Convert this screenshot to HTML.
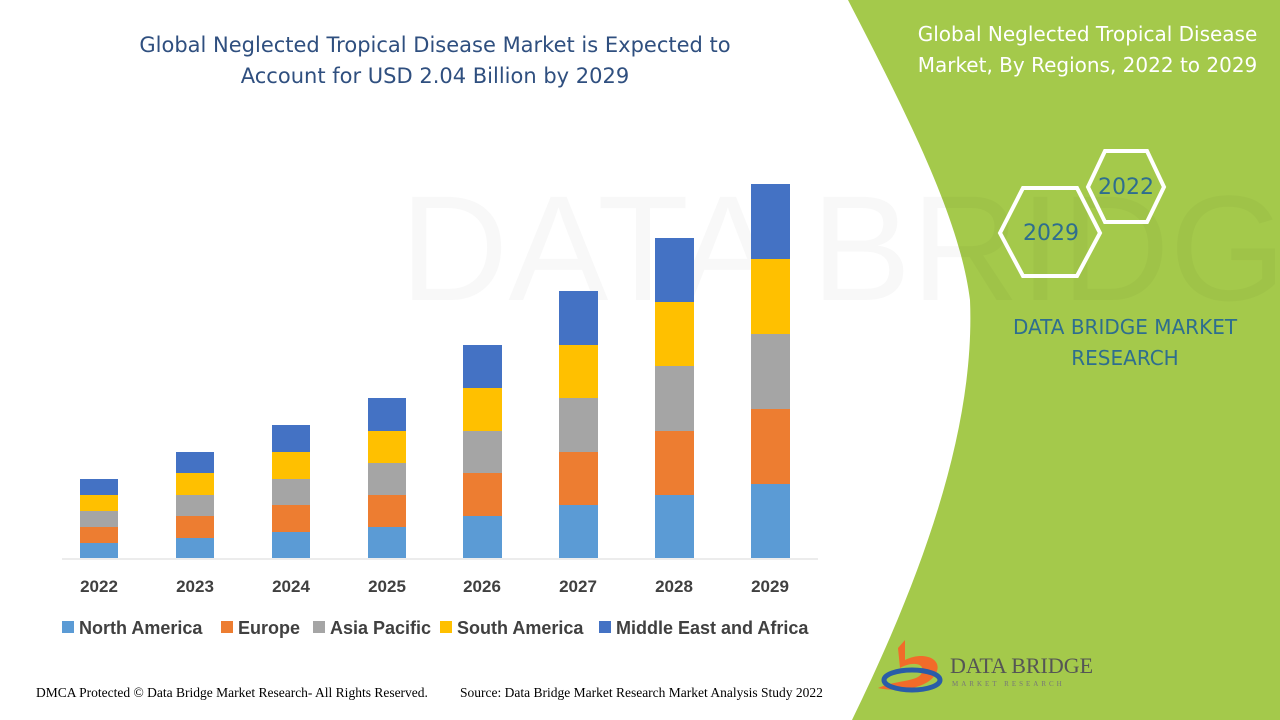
<!DOCTYPE html>
<html><head><meta charset="utf-8"><style>
body{margin:0;width:1280px;height:720px;overflow:hidden;background:#fff;font-family:"Liberation Sans",sans-serif;position:relative}
.t{position:absolute;font-family:"DejaVu Sans","Liberation Sans",sans-serif}
</style></head><body>
<svg width="1280" height="720" style="position:absolute;left:0;top:0">
<path d="M848,0 L1280,0 L1280,720 L852,720 C930,560 975,420 970,300 C960,220 910,120 848,0 Z" fill="#a4c94b"/>
<text x="400" y="300" font-size="150" fill="#000" opacity="0.025" font-family="Liberation Sans">DATA BRIDGE</text>
<polygon points="1088,187 1105,151 1147,151 1164,187 1147,222 1105,222" fill="none" stroke="#fff" stroke-width="4"/>
<polygon points="1000,233 1023,188 1077,188 1100,233 1077,276 1023,276" fill="none" stroke="#fff" stroke-width="4"/>
<text x="1126" y="194" font-size="22" fill="#2e6e8e" text-anchor="middle" font-family="DejaVu Sans">2022</text>
<text x="1051" y="240" font-size="22" fill="#2e6e8e" text-anchor="middle" font-family="DejaVu Sans">2029</text>
<line x1="62" y1="559" x2="818" y2="559" stroke="#d9d9d9" stroke-width="1"/>
<g font-size="17" font-weight="bold" fill="#404040" text-anchor="middle" font-family="Liberation Sans">
<text x="99" y="592">2022</text><text x="195" y="592">2023</text><text x="291" y="592">2024</text><text x="387" y="592">2025</text><text x="482" y="592">2026</text><text x="578" y="592">2027</text><text x="674" y="592">2028</text><text x="770" y="592">2029</text>
</g>
<g font-size="18" font-weight="bold" fill="#404040" font-family="Liberation Sans">
<rect x="62" y="621" width="12" height="12" fill="#5b9bd5"/><text x="79" y="634">North America</text>
<rect x="221" y="621" width="12" height="12" fill="#ed7d31"/><text x="238" y="634">Europe</text>
<rect x="313" y="621" width="12" height="12" fill="#a5a5a5"/><text x="330" y="634">Asia Pacific</text>
<rect x="440" y="621" width="12" height="12" fill="#ffc000"/><text x="457" y="634">South America</text>
<rect x="599" y="621" width="12" height="12" fill="#4472c4"/><text x="616" y="634">Middle East and Africa</text>
</g>
<path d="M898,648 L905,640 L905,660 C925,650 945,660 935,675 C925,690 895,692 878,688 C895,680 920,682 922,672 C925,662 910,662 900,668 Z" fill="#f26b2a"/>
<ellipse cx="912" cy="680" rx="28" ry="10" fill="none" stroke="#2a5da8" stroke-width="5"/>
<text x="950" y="673" font-size="22" fill="#555" font-family="Liberation Serif">DATA BRIDGE</text>
<text x="952" y="686" font-size="7" fill="#777" letter-spacing="3" font-family="Liberation Serif">MARKET RESEARCH</text>
</svg>
<div class="t" style="left:80px;top:30px;width:710px;text-align:center;font-size:21px;line-height:31px;color:#2f4f7f">Global Neglected Tropical Disease Market is Expected to<br>Account for USD 2.04 Billion by 2029</div>
<div class="t" style="left:895px;top:19px;width:385px;text-align:center;font-size:20px;line-height:31px;color:#fff">Global Neglected Tropical Disease<br>Market, By Regions, 2022 to 2029</div>
<div class="t" style="left:990px;top:312px;width:270px;text-align:center;font-size:20px;line-height:31px;color:#2e6e8e">DATA BRIDGE MARKET<br>RESEARCH</div>
<div class="t" style="left:36px;top:685px;font-size:13.5px;font-family:'Liberation Serif',serif;color:#000">DMCA Protected © Data Bridge Market Research- All Rights Reserved.</div>
<div class="t" style="left:460px;top:685px;font-size:13.5px;font-family:'Liberation Serif',serif;color:#000">Source: Data Bridge Market Research Market Analysis Study 2022</div>
<svg width="1280" height="720" style="position:absolute;left:0;top:0">
<g>
<rect x="80" y="543" width="38" height="15" fill="#5b9bd5"/><rect x="80" y="527" width="38" height="16" fill="#ed7d31"/><rect x="80" y="511" width="38" height="16" fill="#a5a5a5"/><rect x="80" y="495" width="38" height="16" fill="#ffc000"/><rect x="80" y="479" width="38" height="16" fill="#4472c4"/>
<rect x="176" y="538" width="38" height="20" fill="#5b9bd5"/><rect x="176" y="516" width="38" height="22" fill="#ed7d31"/><rect x="176" y="495" width="38" height="21" fill="#a5a5a5"/><rect x="176" y="473" width="38" height="22" fill="#ffc000"/><rect x="176" y="452" width="38" height="21" fill="#4472c4"/>
<rect x="272" y="532" width="38" height="26" fill="#5b9bd5"/><rect x="272" y="505" width="38" height="27" fill="#ed7d31"/><rect x="272" y="479" width="38" height="26" fill="#a5a5a5"/><rect x="272" y="452" width="38" height="27" fill="#ffc000"/><rect x="272" y="425" width="38" height="27" fill="#4472c4"/>
<rect x="368" y="527" width="38" height="31" fill="#5b9bd5"/><rect x="368" y="495" width="38" height="32" fill="#ed7d31"/><rect x="368" y="463" width="38" height="32" fill="#a5a5a5"/><rect x="368" y="431" width="38" height="32" fill="#ffc000"/><rect x="368" y="398" width="38" height="33" fill="#4472c4"/>
<rect x="463" y="516" width="39" height="42" fill="#5b9bd5"/><rect x="463" y="473" width="39" height="43" fill="#ed7d31"/><rect x="463" y="431" width="39" height="42" fill="#a5a5a5"/><rect x="463" y="388" width="39" height="43" fill="#ffc000"/><rect x="463" y="345" width="39" height="43" fill="#4472c4"/>
<rect x="559" y="505" width="39" height="53" fill="#5b9bd5"/><rect x="559" y="452" width="39" height="53" fill="#ed7d31"/><rect x="559" y="398" width="39" height="54" fill="#a5a5a5"/><rect x="559" y="345" width="39" height="53" fill="#ffc000"/><rect x="559" y="291" width="39" height="54" fill="#4472c4"/>
<rect x="655" y="495" width="39" height="63" fill="#5b9bd5"/><rect x="655" y="431" width="39" height="64" fill="#ed7d31"/><rect x="655" y="366" width="39" height="65" fill="#a5a5a5"/><rect x="655" y="302" width="39" height="64" fill="#ffc000"/><rect x="655" y="238" width="39" height="64" fill="#4472c4"/>
<rect x="751" y="484" width="39" height="74" fill="#5b9bd5"/><rect x="751" y="409" width="39" height="75" fill="#ed7d31"/><rect x="751" y="334" width="39" height="75" fill="#a5a5a5"/><rect x="751" y="259" width="39" height="75" fill="#ffc000"/><rect x="751" y="184" width="39" height="75" fill="#4472c4"/>
</g>
</svg>
</body></html>
